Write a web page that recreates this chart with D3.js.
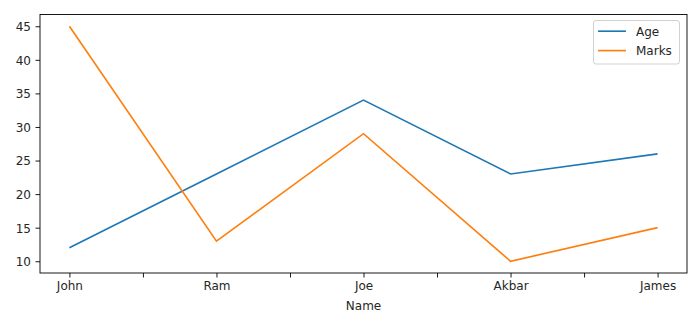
<!DOCTYPE html>
<html><head><meta charset="utf-8">
<script src="https://cdn.jsdelivr.net/npm/d3@7"></script>
<style>body{margin:0;background:#fff}svg{display:block}text{font-family:"DejaVu Sans",sans-serif;fill:#262626}</style>
</head><body><svg id="c" width="700" height="327"></svg>
<script>
const names = ["John","Ram","Joe","Akbar","James"];
const age = [12,23,34,23,26];
const marks = [45,13,29,10,15];
const yTicks = [10,15,20,25,30,35,40,45];
const xTicks = [0,0.5,1,1.5,2,2.5,3,3.5,4];

const FS = 12;
const svg = d3.select("#c");
const L=40, R=687, T=14.5, B=273;
const x = d3.scaleLinear().domain([-0.2,4.2]).range([L,R]);
const y = d3.scaleLinear().domain([8.25,46.75]).range([B,T]);

const xAxis = d3.axisBottom(x).tickValues(xTicks).tickSize(4.5).tickPadding(3.5)
  .tickFormat(d => Number.isInteger(d) ? names[d] : "");
const gx = svg.append("g").attr("transform",`translate(0,${B})`).call(xAxis);
const gy = svg.append("g").attr("transform",`translate(${L},0)`).call(d3.axisLeft(y).tickValues(yTicks).tickSize(4.5).tickPadding(4.5));
[gx,gy].forEach(g=>{g.select(".domain").remove();g.selectAll("line").attr("stroke","#000").attr("stroke-width",0.9);g.selectAll("text").attr("font-size",FS).attr("fill","#262626").style("font-family","DejaVu Sans");});
gy.selectAll("text").attr("dy","0.36em");

const line = d3.line().x((d,i)=>x(i)).y(d=>y(d));
svg.append("path").datum(age).attr("d",line).attr("fill","none").attr("stroke","#1f77b4").attr("stroke-width",1.65);
svg.append("path").datum(marks).attr("d",line).attr("fill","none").attr("stroke","#ff7f0e").attr("stroke-width",1.65);

svg.append("rect").attr("x",L).attr("y",T).attr("width",R-L).attr("height",B-T).attr("fill","none").attr("stroke","#000").attr("stroke-width",0.9);

svg.append("text").attr("x",(L+R)/2).attr("y",310).attr("text-anchor","middle").attr("font-size",FS).text("Name");

const lg = svg.append("g");
lg.append("rect").attr("x",593.5).attr("y",20.5).attr("width",86).attr("height",43.5).attr("rx",2.5).attr("fill","#fff").attr("fill-opacity",0.8).attr("stroke","#ccc").attr("stroke-width",0.9);
const series=[["Age","#1f77b4"],["Marks","#ff7f0e"]];
series.forEach((s,i)=>{
  const yy = 31.2 + i*19.4;
  lg.append("line").attr("x1",598).attr("x2",626).attr("y1",yy).attr("y2",yy).attr("stroke",s[1]).attr("stroke-width",1.65);
  lg.append("text").attr("x",636).attr("y",yy+4.3).attr("font-size",FS).text(s[0]);
});
</script></body></html>
